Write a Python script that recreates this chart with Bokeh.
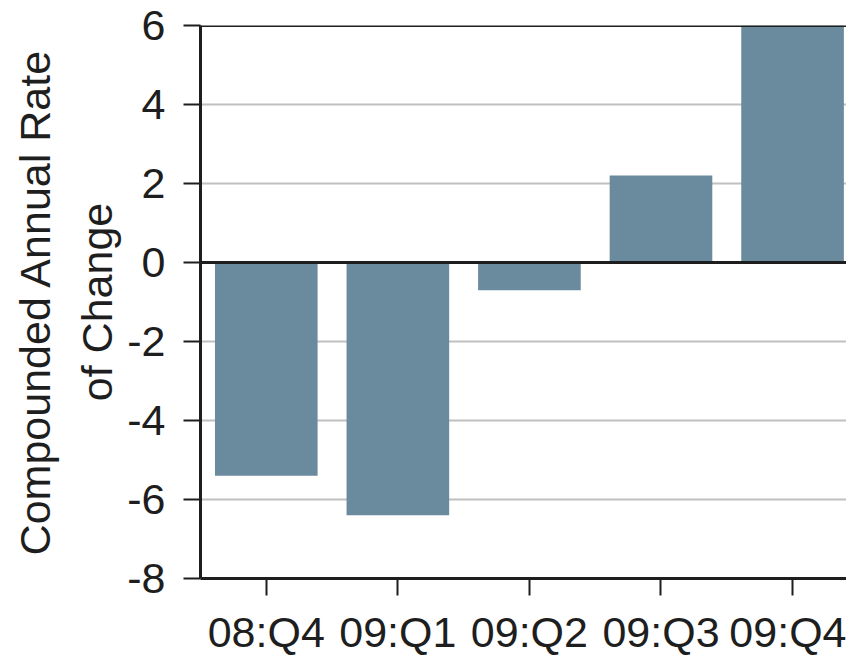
from bokeh.plotting import figure
from bokeh.models import Range1d, FixedTicker, Span, ColumnDataSource
from bokeh.embed import file_html
from bokeh.resources import INLINE

# Quarterly compounded annual rate of change
quarters = ["08:Q4", "09:Q1", "09:Q2", "09:Q3", "09:Q4"]
rates = [-5.4, -6.4, -0.7, 2.2, 6.0]
y_ticks = [-8, -6, -4, -2, 0, 2, 4, 6]

FONT = "Liberation Sans"
INK = "#1e1e1e"
BAR = "#6a8a9e"

positions = list(range(len(quarters)))
source = ColumnDataSource(data=dict(x=positions, top=rates, label=quarters))

p = figure(
    width=846, height=659,
    x_range=Range1d(-0.5, 4.41),
    y_range=Range1d(-8, 6),
    output_backend="svg", toolbar_location=None,
    min_border_left=200, min_border_right=0,
    min_border_top=25, min_border_bottom=81,
)
p.outline_line_color = None
p.background_fill_color = "white"
p.border_fill_color = "white"

p.vbar(x="x", top="top", bottom=0, width=0.78, source=source,
       fill_color=BAR, line_color=None)

# gridlines
p.xgrid.visible = False
p.ygrid.ticker = FixedTicker(ticks=y_ticks)
p.ygrid.grid_line_color = "#c0c0c0"
p.ygrid.grid_line_width = 2

# zero line and top border
p.add_layout(Span(location=0, dimension="width", line_color=INK, line_width=3))
p.add_layout(Span(location=6, dimension="width", line_color=INK, line_width=3))

# y axis (plain hyphen for negative tick labels)
ya = p.yaxis[0]
ya.ticker = FixedTicker(ticks=y_ticks)
ya.major_label_overrides = {t: str(t) for t in y_ticks}
ya.axis_label = "Compounded Annual Rate\nof Change"
ya.axis_label_text_font = FONT
ya.axis_label_text_font_size = "43px"
ya.axis_label_text_font_style = "normal"
ya.axis_label_text_color = INK
ya.axis_label_text_line_height = 1.29
ya.axis_label_standoff = 3
ya.major_label_text_font = FONT
ya.major_label_text_font_size = "43px"
ya.major_label_text_color = INK
ya.major_label_standoff = 18
ya.major_tick_out = 17
ya.major_tick_in = 0
ya.major_tick_line_width = 2
ya.major_tick_line_color = INK
ya.minor_tick_line_color = None
ya.axis_line_color = INK
ya.axis_line_width = 3

# x axis
xa = p.xaxis[0]
xa.ticker = FixedTicker(ticks=positions)
xa.major_label_overrides = {i: q for i, q in zip(positions, quarters)}
xa.major_label_text_font = FONT
xa.major_label_text_font_size = "43px"
xa.major_label_text_color = INK
xa.major_label_standoff = 12
xa.major_tick_out = 17
xa.major_tick_in = 0
xa.major_tick_line_width = 2
xa.major_tick_line_color = INK
xa.minor_tick_line_color = None
xa.axis_line_color = INK
xa.axis_line_width = 3

open("out.html", "w").write(file_html(p, INLINE))
